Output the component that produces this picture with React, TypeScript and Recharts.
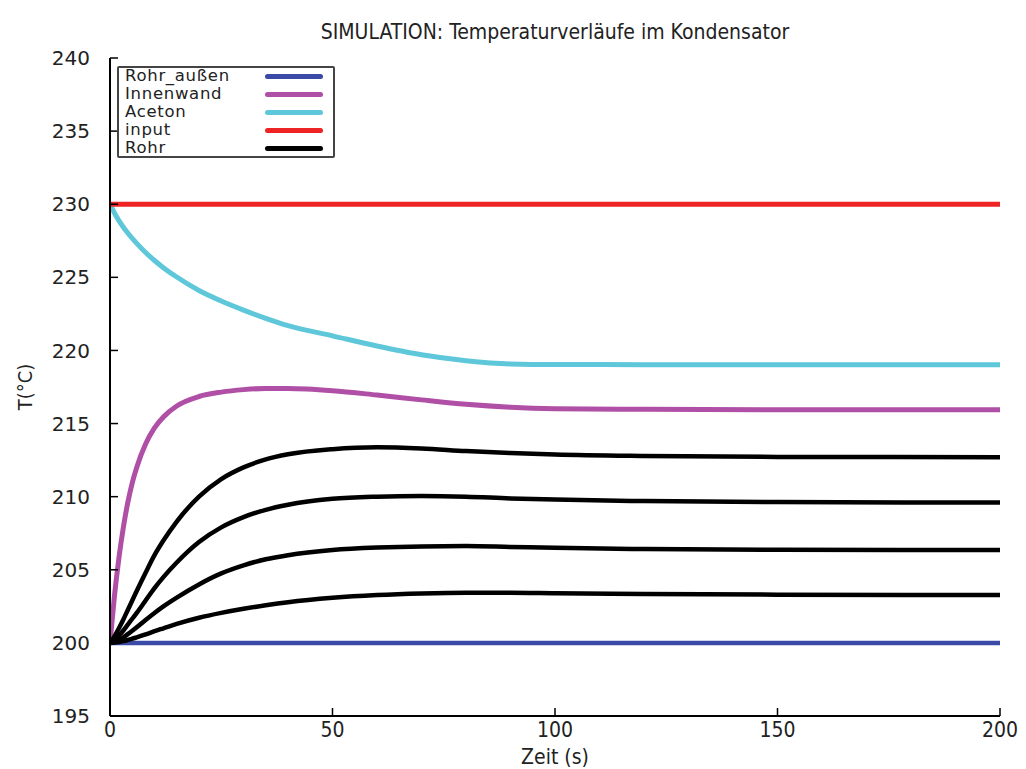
import { LineChart, Line, XAxis, YAxis } from "recharts";

const zeit = [0, 1, 2, 3, 4, 5, 6, 8, 10, 12, 15, 20, 25, 30, 35, 40, 50, 60, 70, 80, 90, 100, 120, 150, 200];

const rohrAussen = [200, 200, 200, 200, 200, 200, 200, 200, 200, 200, 200, 200, 200, 200, 200, 200, 200, 200, 200, 200, 200, 200, 200, 200, 200];
const innenwand = [200, 203.2, 205.8, 207.9, 209.6, 210.95, 212.0, 213.6, 214.7, 215.45, 216.2, 216.85, 217.15, 217.32, 217.4, 217.4, 217.25, 216.95, 216.62, 216.32, 216.12, 216.02, 215.97, 215.95, 215.95];
const aceton = [230, 229.4, 228.88, 228.43, 228.03, 227.66, 227.32, 226.7, 226.15, 225.66, 225.02, 224.1, 223.38, 222.76, 222.2, 221.7, 221.0, 220.3, 219.7, 219.3, 219.08, 219.04, 219.03, 219.03, 219.03];
const input = [230, 230, 230, 230, 230, 230, 230, 230, 230, 230, 230, 230, 230, 230, 230, 230, 230, 230, 230, 230, 230, 230, 230, 230, 230];
const rohr1 = [200, 200.45, 201.0, 201.6, 202.25, 202.9, 203.55, 204.8, 206.0, 207.0, 208.3, 210.0, 211.2, 212.0, 212.55, 212.9, 213.25, 213.38, 213.3, 213.12, 212.98, 212.88, 212.78, 212.72, 212.7];
const rohr2 = [200, 200.2, 200.5, 200.85, 201.25, 201.65, 202.05, 202.9, 203.75, 204.5, 205.5, 206.9, 207.9, 208.6, 209.1, 209.45, 209.85, 210.0, 210.05, 210.0, 209.88, 209.8, 209.7, 209.63, 209.6];
const rohr3 = [200, 200.07, 200.2, 200.38, 200.6, 200.83, 201.07, 201.57, 202.05, 202.5, 203.1, 204.0, 204.75, 205.3, 205.72, 206.0, 206.35, 206.52, 206.6, 206.62, 206.56, 206.5, 206.42, 206.37, 206.35];
const rohr4 = [200, 200.02, 200.06, 200.12, 200.2, 200.29, 200.38, 200.58, 200.8, 201.0, 201.3, 201.72, 202.05, 202.33, 202.57, 202.78, 203.08, 203.27, 203.38, 203.43, 203.43, 203.4, 203.35, 203.3, 203.27];

const xTicks = [0, 50, 100, 150, 200];
const yTicks = [195, 200, 205, 210, 215, 220, 225, 230, 235, 240];

const legendEntries = [
  { name: "Rohr_außen", color: "#3a4aa6" },
  { name: "Innenwand", color: "#b04fa6" },
  { name: "Aceton", color: "#5ec8da" },
  { name: "input", color: "#ee2424" },
  { name: "Rohr", color: "#000000" },
];

const data = zeit.map((t, i) => ({
  t,
  rohrAussen: rohrAussen[i],
  innenwand: innenwand[i],
  aceton: aceton[i],
  input: input[i],
  rohr1: rohr1[i],
  rohr2: rohr2[i],
  rohr3: rohr3[i],
  rohr4: rohr4[i],
}));

const condensed = "'DejaVu Sans Condensed', 'DejaVu Sans', sans-serif";
const sans = "'DejaVu Sans', sans-serif";

function YLabel({ viewBox }: any) {
  const cy = viewBox.y + viewBox.height / 2;
  return (
    <text x={17} y={cy} transform={`rotate(-90, 17, ${cy})`} textAnchor="middle" dominantBaseline="central"
      fontFamily={condensed} fontSize={20} fill="#222">
      T(°C)
    </text>
  );
}

function XLabel({ viewBox }: any) {
  const cx = viewBox.x + viewBox.width / 2;
  return (
    <text x={cx} y={749} textAnchor="middle" dominantBaseline="central" fontFamily={condensed} fontSize={21} fill="#222">
      Zeit (s)
    </text>
  );
}

export default function App() {
  const W = 1010;
  const H = 761;
  return (
    <div style={{ position: "relative", width: W, height: H, background: "#fff" }}>
      <div style={{ position: "absolute", top: 11, left: 102, width: 890, textAlign: "center",
        fontFamily: condensed, fontStretch: "condensed", fontSize: 21, lineHeight: "26px", color: "#222" }}>
        SIMULATION: Temperaturverläufe im Kondensator
      </div>
      <LineChart width={W} height={H} data={data} margin={{ top: 50, right: 18, bottom: 0, left: 0 }}>
        <XAxis dataKey="t" type="number" domain={[0, 200]} ticks={xTicks} allowDataOverflow
          height={53} tickSize={-8} tickMargin={14}
          axisLine={{ stroke: "#000", strokeWidth: 2 }} tickLine={{ stroke: "#000", strokeWidth: 1.5 }}
          tick={{ fontFamily: condensed, fontSize: 21, fill: "#222" }}
          label={<XLabel />} />
        <XAxis xAxisId="top" orientation="top" dataKey="t" type="number" domain={[0, 200]} ticks={xTicks}
          allowDataOverflow height={0} tickSize={-8} tick={false}
          axisLine={{ stroke: "#000", strokeWidth: 2 }} tickLine={{ stroke: "#000", strokeWidth: 1.5 }} />
        <YAxis type="number" domain={[195, 240]} ticks={yTicks} allowDataOverflow width={102}
          tickSize={-8} tickMargin={28}
          axisLine={{ stroke: "#000", strokeWidth: 2 }} tickLine={{ stroke: "#000", strokeWidth: 1.5 }}
          tick={{ fontFamily: sans, fontSize: 20, fill: "#222" }}
          label={<YLabel />} />
        <YAxis yAxisId="right" orientation="right" type="number" domain={[195, 240]} ticks={yTicks}
          allowDataOverflow width={0} tickSize={-8} tick={false}
          axisLine={{ stroke: "#000", strokeWidth: 2 }} tickLine={{ stroke: "#000", strokeWidth: 1.5 }} />

        <Line type="monotone" dataKey="rohrAussen" stroke="#3a4aa6" strokeWidth={4.5} dot={false} isAnimationActive={false} />
        <Line type="monotone" dataKey="innenwand" stroke="#b04fa6" strokeWidth={5} dot={false} isAnimationActive={false} />
        <Line type="monotone" dataKey="aceton" stroke="#5ec8da" strokeWidth={5} dot={false} isAnimationActive={false} />
        <Line type="monotone" dataKey="input" stroke="#ee2424" strokeWidth={5} dot={false} isAnimationActive={false} />
        <Line type="monotone" dataKey="rohr1" stroke="#000" strokeWidth={4.5} dot={false} isAnimationActive={false} />
        <Line type="monotone" dataKey="rohr2" stroke="#000" strokeWidth={4.5} dot={false} isAnimationActive={false} />
        <Line type="monotone" dataKey="rohr3" stroke="#000" strokeWidth={4.5} dot={false} isAnimationActive={false} />
        <Line type="monotone" dataKey="rohr4" stroke="#000" strokeWidth={4.5} dot={false} isAnimationActive={false} />
      </LineChart>

      {/* Legende im Plot, oben links */}
      <div style={{ position: "absolute", left: 109, top: 58, width: 214, height: 88, border: "2px solid #444",
        borderRadius: 2, background: "#fff", fontFamily: sans, fontSize: 16.5, letterSpacing: 0.7, color: "#222",
        boxSizing: "content-box" }}>
        <div style={{ position: "absolute", left: 6, top: -1 }}>
          {legendEntries.map((e) => (
            <div key={e.name} style={{ display: "flex", alignItems: "center", height: 18, lineHeight: "18px" }}>
              <span style={{ width: 140, whiteSpace: "nowrap" }}>{e.name}</span>
              <span style={{ display: "inline-block", width: 58, height: 5, borderRadius: 3, background: e.color }} />
            </div>
          ))}
        </div>
      </div>
    </div>
  );
}
